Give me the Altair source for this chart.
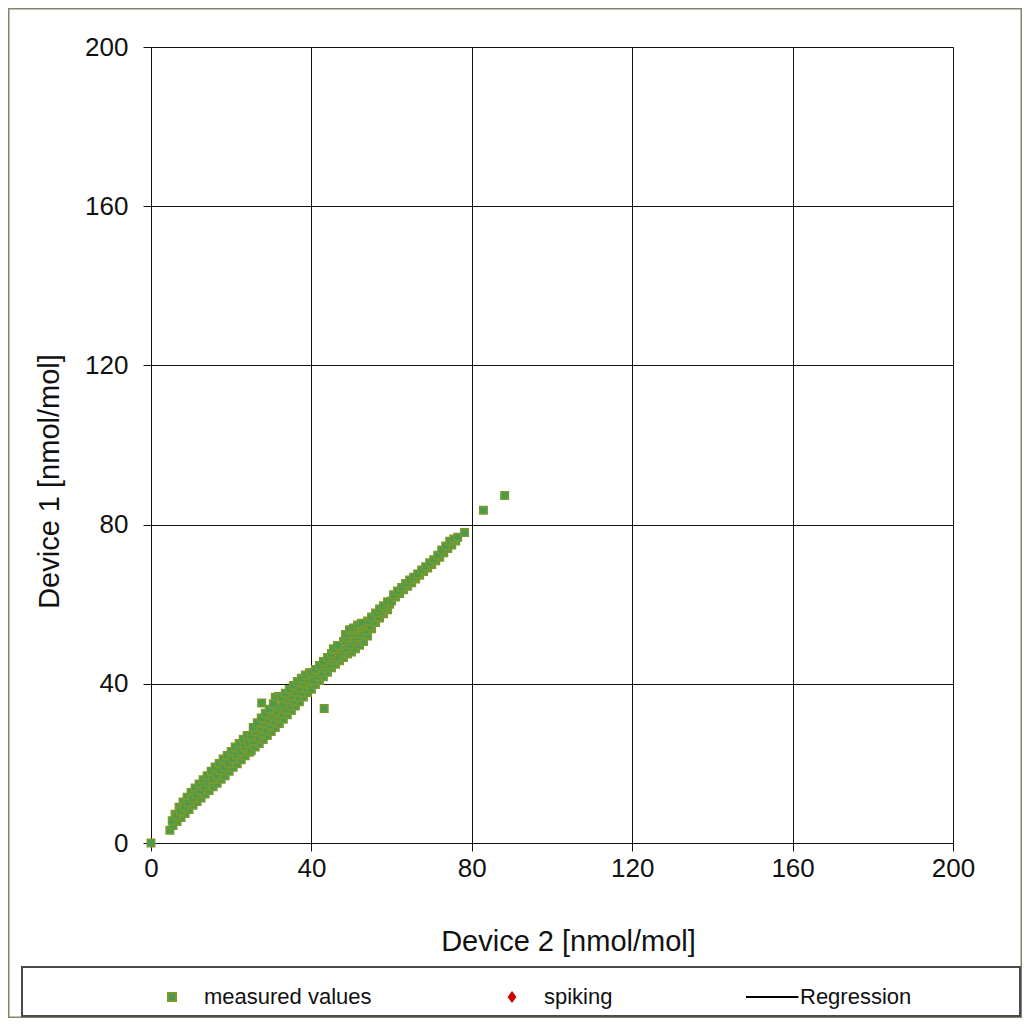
import altair as alt
import pandas as pd

# ---- data ----
x_measured = [
    0.0,
    # x 4.7 - 15
    4.7, 5.5, 6.5, 7.5, 8.5, 9.5, 10.5, 11.5, 12.5, 13.5, 14.5,
    6.0, 7.0, 8.0, 9.0, 10.0, 11.0, 12.0, 13.0, 14.0,
    5.3, 6.3, 7.3, 8.3, 9.3, 10.3, 11.3, 12.3, 13.3, 14.3,
    # x 15 - 25
    15.5, 16.5, 17.5, 18.5, 19.5, 20.5, 21.5, 22.5, 23.5, 24.5,
    15.0, 16.0, 17.0, 18.0, 19.0, 20.0, 21.0, 22.0, 23.0, 24.0,
    15.3, 16.3, 17.3, 18.3, 19.3, 20.3, 21.3, 22.3, 23.3, 24.3,
    # x 25 - 40
    25.0, 26.0, 27.0, 28.0, 29.0, 30.0, 31.0, 32.0, 33.0, 34.0, 35.0, 36.0, 37.0, 38.0, 39.0,
    25.5, 26.5, 27.5, 28.5, 29.5, 30.5, 31.5, 32.5, 33.5, 34.5, 35.5, 36.5, 37.5, 38.5, 39.5,
    25.0, 26.0, 27.0, 28.0, 29.0, 30.0, 31.0, 32.0, 33.0, 34.0, 35.0, 36.0, 37.0, 38.0, 39.0,
    25.5, 26.5, 27.5, 28.5, 29.5, 30.5, 31.0, 31.8, 32.6, 33.5, 34.5, 35.5, 36.5, 37.5, 38.5, 39.5,
    # x 40 - 60
    40.0, 41.0, 42.0, 43.0, 44.0, 45.0, 46.0, 47.0, 48.0, 49.0, 50.0, 51.0, 52.0, 53.0, 54.0, 55.0,
    56.0, 57.0, 58.0, 59.0,
    40.5, 41.5, 42.5, 43.5, 44.5, 45.5, 46.5, 47.5, 48.5, 49.5, 50.5, 51.5, 52.5, 53.5, 54.5, 55.5,
    56.5, 57.5, 58.5, 59.5,
    40.0, 41.0, 42.0, 43.0, 44.0, 45.0, 46.0, 47.0, 48.0, 49.0, 50.0, 51.0, 52.0, 53.0, 54.0, 55.0,
    56.0, 57.0, 58.0, 59.0,
    48.5, 49.5, 50.5, 51.5, 52.5, 45.5, 46.5,
    # x 60 - 78
    60.0, 61.0, 62.0, 63.0, 64.0, 65.0, 66.0, 67.0, 68.0, 69.0, 70.0, 71.0, 72.0, 73.0, 74.0, 75.0, 76.0,
    60.5, 61.5, 62.5, 63.5, 64.5, 65.5, 66.5, 67.5, 68.5, 69.5, 70.5, 71.5, 72.5, 73.5, 74.5, 75.5, 76.5,
    78.2,
    # isolated points
    27.6, 43.2, 82.9, 88.2,
]
y_measured = [
    0.0,
    3.2, 4.4, 5.4, 6.4, 7.4, 8.4, 9.5, 10.4, 11.3, 12.3, 13.2,
    7.2, 9.0, 10.3, 11.5, 12.7, 13.8, 14.8, 15.9, 16.9,
    5.6, 6.9, 8.0, 9.1, 10.1, 11.2, 12.2, 13.1, 14.2, 15.2,
    14.1, 15.0, 16.0, 16.9, 18.0, 19.0, 19.9, 20.9, 21.9, 22.8,
    18.0, 19.1, 20.0, 21.1, 22.0, 23.0, 24.1, 25.0, 26.1, 27.0,
    16.1, 17.0, 18.2, 19.0, 20.1, 21.1, 22.2, 23.0, 24.1, 25.0,
    23.2, 24.1, 25.0, 26.0, 27.0, 28.0, 29.0, 30.0, 31.1, 32.2, 33.3, 34.4, 35.5, 36.7, 37.8,
    25.6, 26.5, 27.6, 28.4, 29.6, 30.5, 31.6, 32.4, 33.6, 34.5, 35.6, 36.6, 37.7, 38.8, 39.8,
    27.0, 28.1, 29.0, 30.1, 31.0, 32.1, 33.0, 34.2, 35.0, 36.1, 37.0, 38.0, 39.0, 40.0, 41.0,
    29.0, 30.2, 31.4, 32.6, 33.6, 35.0, 36.6, 36.8, 36.6, 37.6, 38.6, 39.6, 40.6, 41.4, 42.2, 42.8,
    38.6, 39.8, 40.8, 41.8, 42.9, 44.0, 44.9, 45.8, 46.6, 47.5, 48.0, 48.8, 49.7, 50.6, 52.0, 53.8,
    55.4, 56.5, 57.6, 58.6,
    40.8, 41.9, 42.8, 43.9, 44.8, 45.9, 46.8, 47.9, 48.8, 49.9, 50.8, 51.7, 52.6, 53.4, 54.4, 55.5,
    56.8, 58.0, 59.0, 60.0,
    42.8, 43.6, 44.6, 45.6, 46.6, 47.6, 48.6, 49.6, 50.6, 51.6, 52.6, 53.6, 54.2, 54.8, 55.8, 56.8,
    57.8, 58.8, 59.6, 60.6,
    52.4, 53.6, 54.0, 54.8, 55.2, 48.8, 49.6,
    60.8, 61.8, 62.7, 63.6, 64.5, 65.4, 66.3, 67.3, 68.2, 69.1, 70.0, 70.9, 71.8, 72.9, 74.0, 74.9, 75.9,
    62.4, 63.3, 64.2, 65.2, 66.1, 66.8, 67.6, 68.6, 69.4, 70.4, 71.2, 72.3, 73.6, 74.6, 75.8, 76.4, 76.8,
    78.0,
    35.2, 33.8, 83.6, 87.3,
]

categories = ["measured values", "spiking", "Regression"]
fill_colors = ["#4a9b4e", "#cc0000", "#000000"]
stroke_colors = ["#7c9a2c", "#cc0000", "#000000"]
shapes = ["square", "M0,-1.1L0.8,0L0,1.1L-0.8,0Z", "M-5.5,0H7.6"]
x_ticks = [0, 40, 80, 120, 160, 200]
y_ticks = [0, 40, 80, 120, 160, 200]

df = pd.DataFrame({"device2": x_measured, "device1": y_measured})
df["series"] = "measured values"

FONT = "Liberation Sans"
W, H = 802, 796

legend = alt.Legend(
    title=None,
    orient="none",
    legendX=10,
    legendY=939,
    direction="horizontal",
    columnPadding=129,
    labelOffset=21,
    labelLimit=400,
    padding=0,
    symbolSize=64,
    symbolStrokeWidth=2,
    labelFont=FONT,
    labelFontSize=22,
    labelColor="#111111",
)

points = alt.Chart(df).mark_point(filled=True, opacity=1, size=56, strokeWidth=1.5).encode(
    x=alt.X(
        "device2:Q",
        scale=alt.Scale(domain=[0, 200], nice=False),
        axis=alt.Axis(values=x_ticks, title="Device 2 [nmol/mol]", labelPadding=4, labelFlush=False,
                      titleX=417, titleY=107, titleBaseline="alphabetic", titleAlign="center"),
    ),
    y=alt.Y(
        "device1:Q",
        scale=alt.Scale(domain=[0, 200], nice=False),
        axis=alt.Axis(values=y_ticks, title="Device 1 [nmol/mol]", labelPadding=15, labelFlush=False,
                      titleX=-93, titleY=434, titleAngle=270, titleBaseline="alphabetic",
                      titleAlign="center"),
    ),
    fill=alt.Fill("series:N", scale=alt.Scale(domain=categories, range=fill_colors), legend=legend),
    stroke=alt.Stroke("series:N", scale=alt.Scale(domain=categories, range=stroke_colors), legend=legend),
    shape=alt.Shape("series:N", scale=alt.Scale(domain=categories, range=shapes), legend=legend),
)

deco = pd.DataFrame({"k": [0]})
frame = alt.Chart(deco).mark_rect(fillOpacity=0, stroke="#84846c", strokeWidth=1.5).encode(
    x=alt.value(-142.25), x2=alt.value(870.25), y=alt.value(-38.25), y2=alt.value(970.25)
)
legend_box = alt.Chart(deco).mark_rect(fillOpacity=0, stroke="#4a4a4a", strokeWidth=2).encode(
    x=alt.value(-129), x2=alt.value(869), y=alt.value(920), y2=alt.value(969)
)

chart = alt.layer(frame, legend_box, points).properties(
    width=W,
    height=H,
    autosize=alt.AutoSizeParams(type="none"),
    padding={"left": 143, "top": 39, "right": 69, "bottom": 175},
    background="white",
).configure_axis(
    grid=True,
    gridColor="#111111",
    gridWidth=1,
    domainColor="#111111",
    domainWidth=1,
    tickColor="#111111",
    tickSize=8,
    labelFont=FONT,
    labelFontSize=26,
    labelColor="#111111",
    titleFont=FONT,
    titleFontSize=29,
    titleFontWeight="normal",
    titleColor="#111111",
).configure_view(strokeWidth=0)

chart.save("out.html", embed_options={"renderer": "svg", "actions": False})
